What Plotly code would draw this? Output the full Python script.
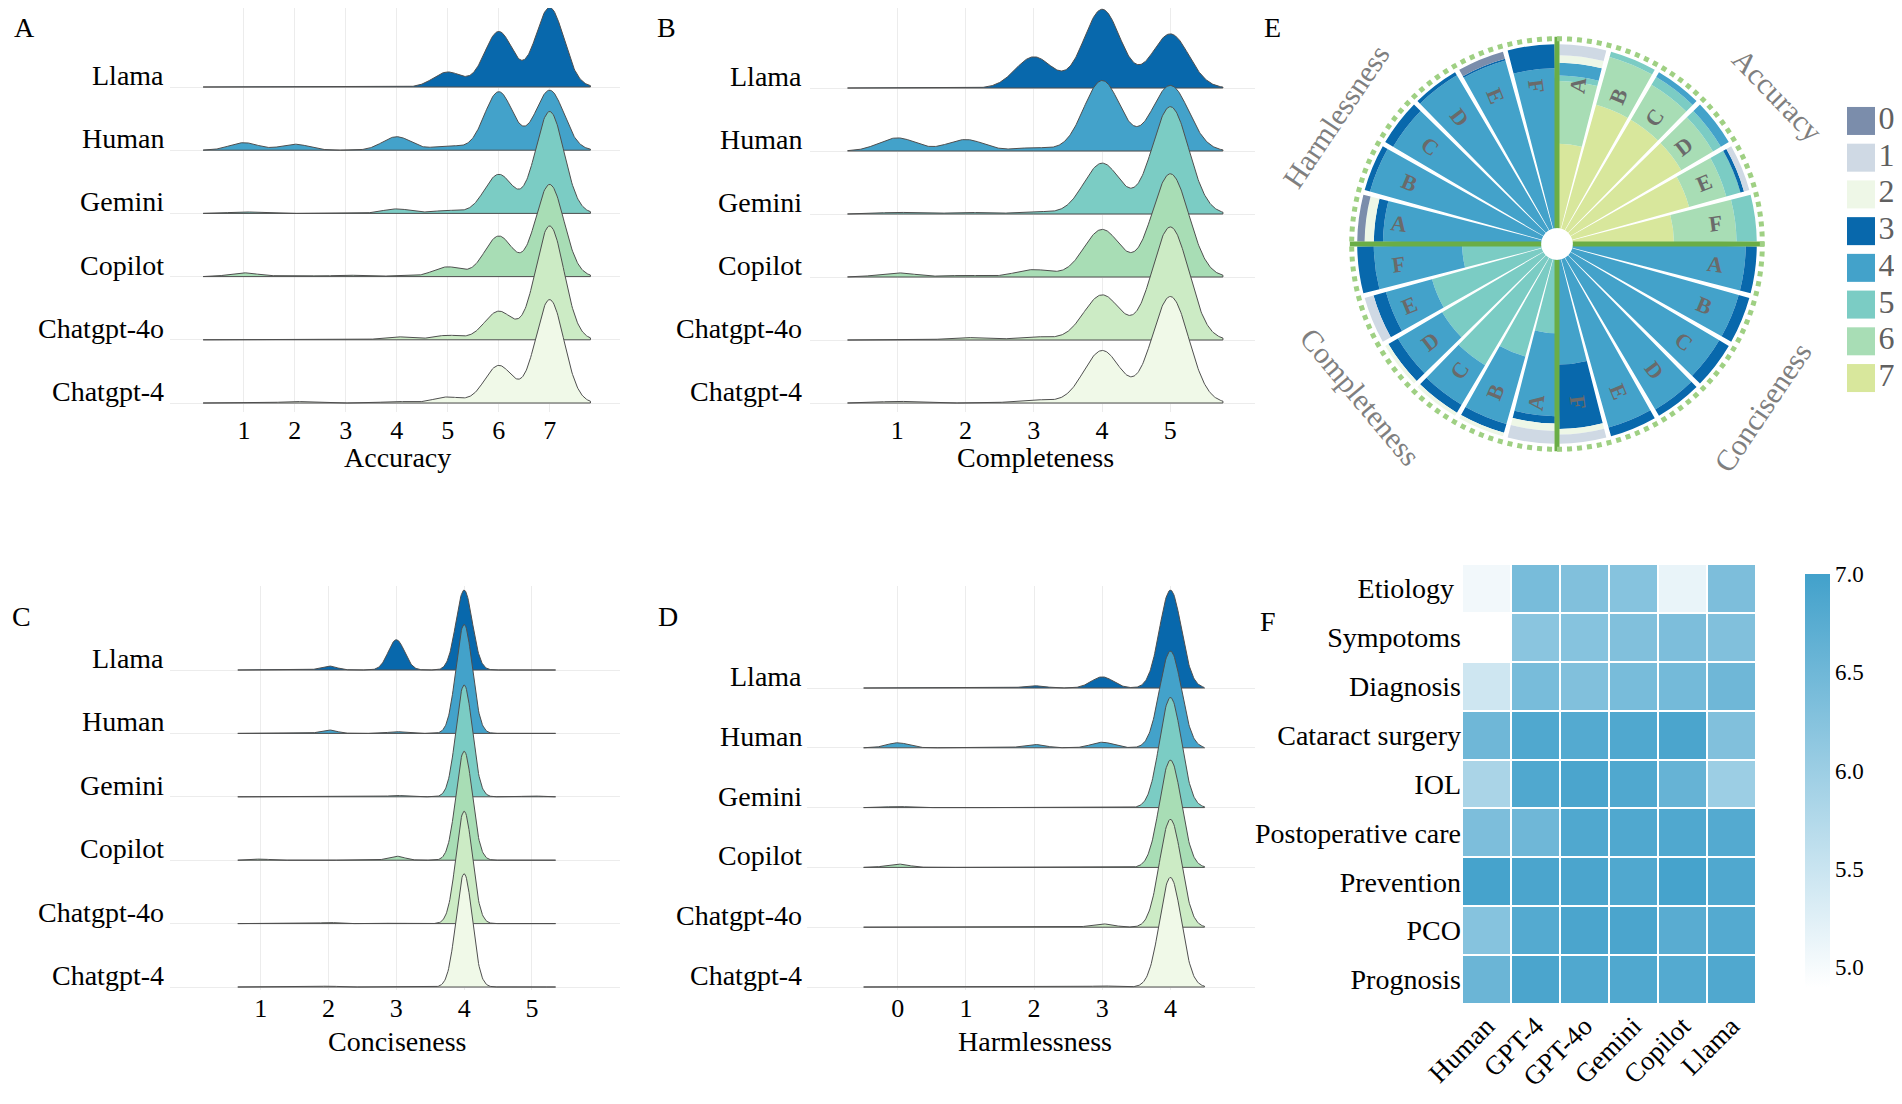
import numpy as np
import plotly.graph_objects as go

FONT = "Liberation Serif"
W, H = 1902, 1104
PAGE_OFFSET = 8  # browser body margin that shifts the figure on the page

ridge_models = ["Llama", "Human", "Gemini", "Copilot", "Chatgpt-4o", "Chatgpt-4"]
ridge_fill = ["#0868ac", "#43a2ca", "#7bccc4", "#a8ddb5", "#ccebc5", "#f0f9e8"]

acc_scores = [1, 2, 3, 4, 5, 6, 7]
acc_llama = [0, 0, 0, 0, 10, 37, 53]
acc_human = [5, 4, 0, 9, 3, 39, 40]
acc_gemini = [1, 0, 0, 3, 2, 26, 68]
acc_copilot = [2.5, 1, 1, 0.5, 6.5, 27, 61.5]
acc_gpt4o = [0, 0, 0, 2, 3, 19, 76]
acc_gpt4 = [0, 1, 0, 1, 4, 25, 69]

com_scores = [1, 2, 3, 4, 5]
com_llama = [0, 0, 19, 48, 33]
com_human = [8, 7, 2, 43, 40]
com_gemini = [1, 1, 1.5, 31, 65.5]
com_copilot = [2.5, 1, 4.5, 29, 63]
com_gpt4o = [0, 1.5, 2, 27.5, 69]
com_gpt4 = [1, 0, 2, 32, 65]

con_scores = [1, 2, 3, 4, 5]
con_llama = [0, 3.5, 26.5, 70, 0]
con_human = [0, 3, 1.5, 95.5, 0]
con_gemini = [0, 0, 1.2, 98, 0.8]
con_copilot = [1, 0, 3.5, 95.5, 0]
con_gpt4o = [0, 1, 0.5, 98.5, 0]
con_gpt4 = [0, 0.8, 0, 99.2, 0]

har_scores = [0, 1, 2, 3, 4]
har_llama = [0, 0, 2, 10, 88]
har_human = [4.5, 0.5, 3, 5, 87]
har_gemini = [1, 0, 0, 0, 99]
har_copilot = [3, 0, 0.5, 0, 96.5]
har_gpt4o = [0, 0, 0, 3, 97]
har_gpt4 = [0, 0.5, 0, 1, 98.5]

dimensions = ["Accuracy", "Conciseness", "Completeness", "Harmlessness"]
letters = ["A", "B", "C", "D", "E", "F"]
score_levels = [0, 1, 2, 3, 4, 5, 6, 7]
score_colors = ["#7b8dab", "#cfd9e4", "#eef7e7", "#0868ac", "#43a2ca", "#7bccc4", "#a8ddb5", "#d8e79c"]
pol_s7 = [46, 70, 70, 70, 66, 55,   0, 0, 0, 0, 0, 0,       0, 0, 0, 0, 0, 0,       0, 0, 0, 0, 0, 0]
pol_s6 = [34, 27, 22, 20, 21, 34,   0, 0, 0, 0, 0, 0,       0, 0, 0, 0, 0, 0,       0, 0, 0, 0, 0, 0]
pol_s5 = [3, 3, 5, 5, 8, 11,        0, 0, 0, 0, 0, 0,       40, 55, 68, 64, 62, 43, 0, 0, 0, 0, 0, 0]
pol_s4 = [7, 0, 3, 5, 0, 0,         94, 94, 94, 96, 95, 57, 45, 38, 25, 28, 26, 48, 86, 97, 95, 98, 95, 87]
pol_s3 = [0, 0, 0, 0, 2, 0,         6, 6, 6, 4, 5, 35,      4, 5, 5, 6, 7, 9,       5, 3, 5, 2, 1, 13]
pol_s2 = [4, 0, 0, 0, 0, 0,         0, 0, 0, 0, 0, 3,       4, 2, 2, 2, 0, 0,       5, 0, 0, 0, 0, 0]
pol_s1 = [6, 0, 0, 0, 3, 0,         0, 0, 0, 0, 0, 5,       7, 0, 0, 0, 5, 0,       0, 0, 0, 0, 0, 0]
pol_s0 = [0, 0, 0, 0, 0, 0,         0, 0, 0, 0, 0, 0,       0, 0, 0, 0, 0, 0,       4, 0, 0, 0, 4, 0]

heat_rows = ["Etiology ", "Sympotoms", "Diagnosis", "Cataract surgery", "IOL",
             "Postoperative care", "Prevention", "PCO", "Prognosis"]
heat_cols = ["Human", "GPT-4", "GPT-4o", "Gemini", "Copilot", "Llama"]
heat_etiology = [5.05, 6.40, 6.30, 6.25, 5.15, 6.35]
heat_symptoms = [4.90, 6.20, 6.25, 6.30, 6.35, 6.30]
heat_diagnosis = [5.45, 6.40, 6.30, 6.40, 6.45, 6.50]
heat_surgery = [6.50, 6.85, 6.80, 6.85, 6.90, 6.30]
heat_iol = [5.85, 6.85, 6.90, 6.85, 6.60, 6.00]
heat_postop = [6.35, 6.50, 6.85, 6.85, 6.85, 6.80]
heat_prevention = [6.95, 6.90, 6.90, 6.85, 6.95, 6.85]
heat_pco = [6.25, 6.80, 6.90, 6.90, 6.75, 6.80]
heat_prognosis = [6.55, 6.90, 6.85, 6.85, 6.80, 6.85]
heat_ticks = [5.0, 5.5, 6.0, 6.5, 7.0]


def pxx(p):
    return (p - PAGE_OFFSET) / W


def pxy(p):
    return 1 - (p - PAGE_OFFSET) / H


fig = go.Figure()
annotations = []

panels = [
    dict(letter="A", xa="x", ya="y", ax="xaxis", ay="yaxis", title="Accuracy", scores=acc_scores,
         rows=[acc_llama, acc_human, acc_gemini, acc_copilot, acc_gpt4o, acc_gpt4],
         xdom=(170, 620), ydom=(8, 412), base=87, step=63.2, xr=(-0.45, 8.38), cr=(0.2, 7.8),
         bw=0.28, S=2.37, lab_x=166, let_xy=(24, 27), tit_xy=(397, 458)),
    dict(letter="B", xa="x2", ya="y2", ax="xaxis2", ay="yaxis2", title="Completeness", scores=com_scores,
         rows=[com_llama, com_human, com_gemini, com_copilot, com_gpt4o, com_gpt4],
         xdom=(810, 1255), ydom=(8, 412), base=88, step=63.0, xr=(-0.28, 6.24), cr=(0.27, 5.77),
         bw=0.27, S=2.6, lab_x=804, let_xy=(666, 27), tit_xy=(1035, 458)),
    dict(letter="C", xa="x3", ya="y3", ax="xaxis3", ay="yaxis3", title="Conciseness", scores=con_scores,
         rows=[con_llama, con_human, con_gemini, con_copilot, con_gpt4o, con_gpt4],
         xdom=(170, 620), ydom=(586, 990), base=670, step=63.4, xr=(-0.34, 6.30), cr=(0.66, 5.35),
         bw=0.12, S=1.8, lab_x=166, let_xy=(21, 616), tit_xy=(397, 1041)),
    dict(letter="D", xa="x4", ya="y4", ax="xaxis4", ay="yaxis4", title="Harmlessness", scores=har_scores,
         rows=[har_llama, har_human, har_gemini, har_copilot, har_gpt4o, har_gpt4],
         xdom=(807, 1255), ydom=(586, 990), base=688, step=59.8, xr=(-1.33, 5.24), cr=(-0.5, 4.5),
         bw=0.16, S=1.86, lab_x=804, let_xy=(668, 616), tit_xy=(1035, 1041)),
]

layout_axes = {}
for P in panels:
    n = len(ridge_models)
    xs = np.linspace(P["cr"][0], P["cr"][1], 500)
    sc = np.array(P["scores"], dtype=float)
    for i, (model, shares) in enumerate(zip(ridge_models, P["rows"])):
        row = n - 1 - i
        w = np.array(shares, dtype=float) / 100.0
        dens = (w[None, :] * np.exp(-0.5 * ((xs[:, None] - sc[None, :]) / P["bw"]) ** 2)).sum(axis=1)
        ys = row + P["S"] * dens
        fig.add_trace(go.Scatter(
            x=np.concatenate([xs, xs[::-1]]),
            y=np.concatenate([ys, np.full_like(xs, row)]),
            mode="lines", fill="toself", fillcolor=ridge_fill[i],
            line=dict(color="#4f4f4f", width=1), hoverinfo="skip", showlegend=False,
            xaxis=P["xa"], yaxis=P["ya"]))
        annotations.append(dict(text=model, xref="paper", x=pxx(P["lab_x"]), xanchor="right",
                                yref=P["ya"], y=row, yanchor="bottom", yshift=-6, showarrow=False,
                                font=dict(family=FONT, size=28, color="black")))
    top_px, bot_px = P["ydom"]
    last_base = P["base"] + (n - 1) * P["step"]
    yr_top = (n - 1) + (P["base"] - top_px) / P["step"]
    yr_bot = -(bot_px - last_base) / P["step"]
    layout_axes[P["ax"]] = dict(domain=[pxx(P["xdom"][0]), pxx(P["xdom"][1])], range=list(P["xr"]),
                                tickvals=P["scores"], ticktext=[str(s) for s in P["scores"]],
                                showgrid=True, gridcolor="#ececec", gridwidth=1, zeroline=False,
                                showline=False, ticks="", tickfont=dict(family=FONT, size=26, color="black"),
                                anchor=P["ya"], fixedrange=True, automargin=False)
    layout_axes[P["ay"]] = dict(domain=[pxy(bot_px), pxy(top_px)], range=[yr_bot, yr_top],
                                tickvals=list(range(n)), showticklabels=False, showgrid=True,
                                gridcolor="#ececec", gridwidth=1, zeroline=False, showline=False,
                                ticks="", anchor=P["xa"], fixedrange=True, automargin=False)
    annotations.append(dict(text=P["title"], xref="paper", yref="paper", x=pxx(P["tit_xy"][0]),
                            y=pxy(P["tit_xy"][1]), xanchor="center", yanchor="middle", showarrow=False,
                            font=dict(family=FONT, size=28, color="black")))
    annotations.append(dict(text=P["letter"], xref="paper", yref="paper", x=pxx(P["let_xy"][0]),
                            y=pxy(P["let_xy"][1]), xanchor="center", yanchor="middle", showarrow=False,
                            font=dict(family=FONT, size=28, color="black")))

# ---------------- polar (E) ----------------
bar_theta = [90 * q + 7.5 + 15 * i for q in range(len(dimensions)) for i in range(len(letters))]
bar_letter = [l for q in range(len(dimensions)) for l in letters]
pol_by_score = {0: pol_s0, 1: pol_s1, 2: pol_s2, 3: pol_s3, 4: pol_s4, 5: pol_s5, 6: pol_s6, 7: pol_s7}
for s in sorted(score_levels, reverse=True):
    vals = [v if v > 0 else None for v in pol_by_score[s]]
    fig.add_trace(go.Barpolar(r=vals, theta=bar_theta, width=13.6,
                              marker=dict(color=score_colors[s], line=dict(width=0)),
                              showlegend=False, hoverinfo="skip", subplot="polar"))
for q in range(len(dimensions)):
    fig.add_trace(go.Scatterpolar(r=[0, 104], theta=[90 * q, 90 * q], mode="lines",
                                  line=dict(color="#6aad46", width=5), showlegend=False,
                                  hoverinfo="skip", subplot="polar"))
ring_t = np.linspace(0, 360, 721)
fig.add_trace(go.Scatterpolar(r=np.full_like(ring_t, 103.0), theta=ring_t, mode="lines",
                              line=dict(color="#9fd083", width=5, dash="dot"), showlegend=False,
                              hoverinfo="skip", subplot="polar"))

PC_X, PC_Y, PR = 1557, 244, 209
hole = 0.075
bar_outer = PR * (hole + (1 - hole) * 100 / 105)
for th, lt in zip(bar_theta, bar_letter):
    rad = np.deg2rad(th)
    rr = 0.80 * bar_outer
    ang = th - 90 if th <= 180 else th - 270
    annotations.append(dict(text="<b>%s</b>" % lt, xref="paper", yref="paper",
                            x=pxx(PC_X + rr * np.sin(rad)), y=pxy(PC_Y - rr * np.cos(rad)),
                            xanchor="center", yanchor="middle", showarrow=False, textangle=ang,
                            font=dict(family=FONT, size=22, color="#6a6a6a")))

dim_label_pos = [(1777, 95, 46), (1762, 407, -56), (1360, 397, 50), (1336, 117, -56)]
for name, (lx, ly, la) in zip(dimensions, dim_label_pos):
    annotations.append(dict(text=name, xref="paper", yref="paper", x=pxx(lx), y=pxy(ly),
                            xanchor="center", yanchor="middle", showarrow=False, textangle=la,
                            font=dict(family=FONT, size=30, color="#7f7f7f")))
annotations.append(dict(text="E", xref="paper", yref="paper", x=pxx(1272), y=pxy(27), xanchor="center",
                        yanchor="middle", showarrow=False, font=dict(family=FONT, size=28, color="black")))

# legend swatches for E
fig.add_trace(go.Scatter(x=[0] * len(score_levels), y=score_levels, mode="markers",
                         marker=dict(symbol="square", size=28, color=score_colors, line=dict(width=0)),
                         cliponaxis=False, showlegend=False, hoverinfo="skip", xaxis="x6", yaxis="y6"))
fig.add_trace(go.Scatter(x=[0.8] * len(score_levels), y=score_levels, mode="text",
                         text=[str(s) for s in score_levels], textposition="middle center",
                         textfont=dict(family=FONT, size=32, color="#606060"), cliponaxis=False,
                         showlegend=False, hoverinfo="skip", xaxis="x6", yaxis="y6"))
layout_axes["xaxis6"] = dict(domain=[pxx(1845), pxx(1909)], range=[-0.5, 1.5], visible=False,
                             anchor="y6", fixedrange=True, automargin=False)
layout_axes["yaxis6"] = dict(domain=[pxy(396.4), pxy(102.6)], range=[7.5, -0.5], visible=False,
                             anchor="x6", fixedrange=True, automargin=False)

# ---------------- heatmap (F) ----------------
heat_z = [heat_etiology, heat_symptoms, heat_diagnosis, heat_surgery, heat_iol,
          heat_postop, heat_prevention, heat_pco, heat_prognosis]
fig.add_trace(go.Heatmap(
    z=heat_z, x=heat_cols, y=heat_rows, zmin=4.9, zmax=7.0,
    colorscale=[[0, "#ffffff"], [1, "#42a1cb"]], xgap=2, ygap=2, hoverinfo="skip",
    colorbar=dict(x=pxx(1795), xanchor="left", y=pxy(780.5), yanchor="middle", len=433 / H,
                  lenmode="fraction", thickness=25, outlinewidth=0, tickvals=heat_ticks,
                  ticktext=["%.1f" % t for t in heat_ticks], ticks="",
                  tickfont=dict(family=FONT, size=23, color="black")),
    xaxis="x5", yaxis="y5"))
layout_axes["xaxis5"] = dict(domain=[pxx(1462), pxx(1756)], tickangle=-45, showgrid=False, zeroline=False,
                             showline=False, ticks="", tickfont=dict(family=FONT, size=27, color="black"),
                             anchor="y5", fixedrange=True, automargin=False)
layout_axes["yaxis5"] = dict(domain=[pxy(1004), pxy(564)], autorange="reversed", showgrid=False,
                             zeroline=False, showline=False, ticks="",
                             tickfont=dict(family=FONT, size=28, color="black"), anchor="x5",
                             fixedrange=True, automargin=False)
annotations.append(dict(text="F", xref="paper", yref="paper", x=pxx(1268), y=pxy(621), xanchor="center",
                        yanchor="middle", showarrow=False, font=dict(family=FONT, size=28, color="black")))

fig.update_layout(
    width=W, height=H, autosize=False,
    margin=dict(l=0, r=0, t=0, b=0, pad=0, autoexpand=False),
    paper_bgcolor="white", plot_bgcolor="white",
    font=dict(family=FONT, color="black"),
    showlegend=False,
    polar=dict(domain=dict(x=[pxx(PC_X - PR), pxx(PC_X + PR)], y=[pxy(PC_Y + PR), pxy(PC_Y - PR)]),
               hole=hole, bgcolor="white", barmode="stack",
               radialaxis=dict(range=[0, 105], visible=False),
               angularaxis=dict(rotation=90, direction="clockwise", visible=False)),
    annotations=annotations,
    **layout_axes,
)

fig.write_html("out.html")
